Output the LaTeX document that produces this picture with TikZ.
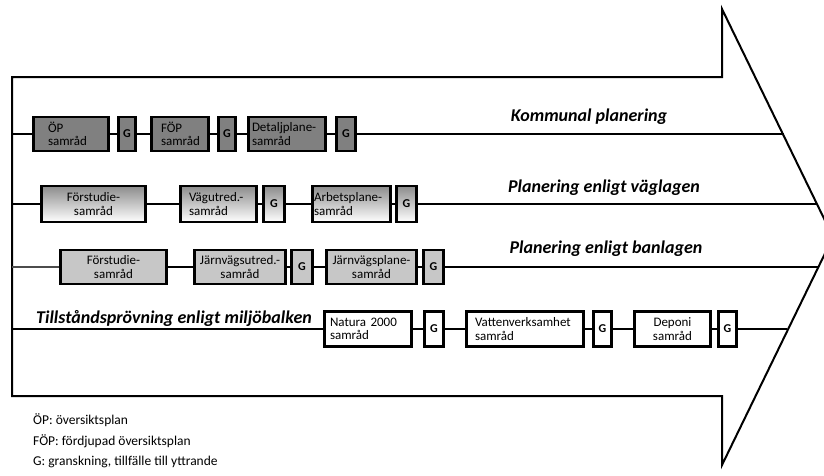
\documentclass[tikz,border=0pt]{standalone}
\usepackage{fontspec}
\setmainfont{Carlito}
\usetikzlibrary{calc}
\tikzset{
  bx/.style={draw, line width=2.6pt, inner sep=0pt, align=center, text=black,
    font=\fontsize{13}{13.5}\selectfont},
  rowA/.style={bx, fill=black!50, minimum height=34},
  rowB/.style={bx, top color=black!45, bottom color=white, minimum height=36},
  rowC/.style={bx, fill=black!22, minimum height=34},
  rowD/.style={bx, fill=white, minimum height=35},
  gb/.style={font=\bfseries\fontsize{12}{13}\selectfont},
  lft/.style={text width=#1, align=left},
  heavy/.style={line width=2.4pt},
  lightln/.style={line width=1.4pt},
  rowlabel/.style={font=\bfseries\itshape\fontsize{18}{20}\selectfont, inner sep=0pt},
  legend/.style={font=\fontsize{13.5}{15}\selectfont, anchor=west, inner sep=0pt},
}
\begin{document}
\begin{tikzpicture}[x=1pt,y=-1pt]
\useasboundingbox (0,0) rectangle (824,475);
\clip (0,0) rectangle (824,475);

% big arrow
\draw[line width=2pt, line join=miter]
  (12,77) -- (722,77) -- (722,9) -- (833,237) -- (722,465) -- (722,396) -- (12,396) -- cycle;

% line end coordinates
\coordinate (l1) at (12,134);  \coordinate (r1) at (784,134);
\coordinate (l2) at (12,204);  \coordinate (r2) at (817,204);
\coordinate (l3) at (12,267);  \coordinate (r3) at (819,267);
\coordinate (l4) at (12,329);  \coordinate (r4) at (787,329);

% Row 1: Kommunal planering
\node[rowA, minimum width=75, lft=46] (op) at (71,134) {ÖP\\samråd};
\node[rowA, minimum width=17, gb] (g1) at (127,134) {G};
\node[rowA, minimum width=57, lft=38] (fop) at (180,134) {FÖP\\samråd};
\node[rowA, minimum width=17, gb] (g2) at (227,134) {G};
\node[rowA, minimum width=77, lft=70] (det) at (287,134) {Detaljplane-\\samråd};
\node[rowA, minimum width=19, gb] (g3) at (346,134) {G};
\node[rowlabel] (t1) at (589,117) {Kommunal planering};

\draw[lightln] (l1) -- (op.west);
\draw[heavy] (op.east) -- (g1.west) (g1.east) -- (fop.west) (fop.east) -- (g2.west)
  (g2.east) -- (det.west) (det.east) -- (g3.west) (g3.east) -- (r1);

% Row 2: väglagen
\node[rowB, minimum width=104] (fs1) at (93.5,204) {Förstudie-\\samråd};
\node[rowB, minimum width=76, lft=59] (vu) at (218.5,204) {Vägutred.-\\samråd};
\node[rowB, minimum width=21, gb] (g4) at (274,204) {G};
\node[rowB, minimum width=78, lft=75] (arb) at (351.5,204) {Arbetsplane-\\samråd};
\node[rowB, minimum width=20, gb] (g5) at (406.5,204) {G};
\node[rowlabel] (t2) at (604,188) {Planering enligt väglagen};

\draw[heavy] (l2) -- (fs1.west) (fs1.east) -- (vu.west) (vu.east) -- (g4.west)
  (g4.east) -- (arb.west) (arb.east) -- (g5.west) (g5.east) -- (r2);

% Row 3: banlagen
\node[rowC, minimum width=106] (fs2) at (113.5,267) {Förstudie-\\samråd};
\node[rowC, minimum width=91] (ju) at (240,267) {Järnvägsutred.-\\samråd};
\node[rowC, minimum width=21, gb] (g6) at (302,267) {G};
\node[rowC, minimum width=90] (jp) at (371.5,267) {Järnvägsplane-\\samråd};
\node[rowC, minimum width=20, gb] (g7) at (433.5,267) {G};
\node[rowlabel] (t3) at (606,249) {Planering enligt banlagen};

\draw[lightln, black!70] (l3) -- (fs2.west);
\draw[heavy] (fs2.east) -- (ju.west) (ju.east) -- (g6.west) (g6.east) -- (jp.west)
  (jp.east) -- (g7.west) (g7.east) -- (r3);

% Row 4: miljöbalken
\node[rowD, minimum width=87, lft=76] (nat) at (368,329) {Natura 2000\\samråd};
\node[rowD, minimum width=19, gb] (g8) at (434,329) {G};
\node[rowD, minimum width=117, lft=100] (vat) at (525,329) {Vattenverksamhet\\samråd};
\node[rowD, minimum width=18, gb] (g9) at (602.5,329) {G};
\node[rowD, minimum width=76] (dep) at (672.5,329) {Deponi\\samråd};
\node[rowD, minimum width=18, gb] (g10) at (727.5,329) {G};
\node[rowlabel] (t4) at (174,318) {Tillståndsprövning enligt miljöbalken};

\draw[lightln] (l4) -- (nat.west) (nat.east) -- (g8.west) (g8.east) -- (vat.west)
  (vat.east) -- (g9.west) (g9.east) -- (dep.west) (dep.east) -- (g10.west) (g10.east) -- (r4);

% legend
\node[legend] (k1) at (33,420) {ÖP: översiktsplan};
\node[legend] (k2) at (33,441) {FÖP: fördjupad översiktsplan};
\node[legend] (k3) at (33,462) {G: granskning, tillfälle till yttrande};
\end{tikzpicture}
\end{document}
